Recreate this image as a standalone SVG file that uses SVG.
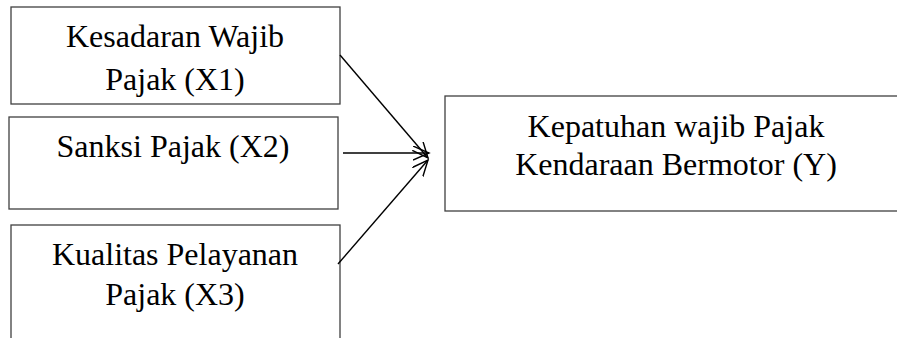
<svg xmlns="http://www.w3.org/2000/svg" width="897" height="338" viewBox="0 0 897 338">
<style>
.box{fill:#fff;stroke:#404040;stroke-width:1.3}
.t{font-family:"Liberation Serif","Times New Roman",serif;font-size:32px;fill:#000;text-anchor:middle}
.c{stroke:#000;stroke-width:1.4;fill:none;marker-end:url(#ah)}
</style>
<defs>
<marker id="ah" markerUnits="userSpaceOnUse" markerWidth="20" markerHeight="16" refX="16" refY="7" orient="auto">
<path d="M0,0 L16,7 L0,14" fill="none" stroke="#000" stroke-width="1.4"/>
</marker>
</defs>
<rect width="897" height="338" fill="#fff"/>
<g id="x1">
<rect class="box" x="11" y="7" width="329" height="97"/>
<text class="t" x="175" y="47">Kesadaran Wajib</text>
<text class="t" x="175" y="90">Pajak (X1)</text>
</g>
<g id="x2">
<rect class="box" x="9" y="117" width="329" height="92"/>
<text class="t" x="173" y="157">Sanksi Pajak (X2)</text>
</g>
<g id="x3">
<rect class="box" x="11" y="225" width="329" height="130"/>
<text class="t" x="175" y="265">Kualitas Pelayanan</text>
<text class="t" x="175" y="305">Pajak (X3)</text>
</g>
<g id="y">
<rect class="box" x="445" y="96" width="470" height="115"/>
<text class="t" x="676" y="137">Kepatuhan wajib Pajak</text>
<text class="t" x="676" y="175">Kendaraan Bermotor (Y)</text>
</g>
<g id="connectors">
<line class="c" x1="340" y1="55" x2="428" y2="158"/>
<line class="c" x1="343" y1="153" x2="429" y2="153"/>
<line class="c" x1="338" y1="264" x2="428" y2="160"/>
</g>
</svg>
